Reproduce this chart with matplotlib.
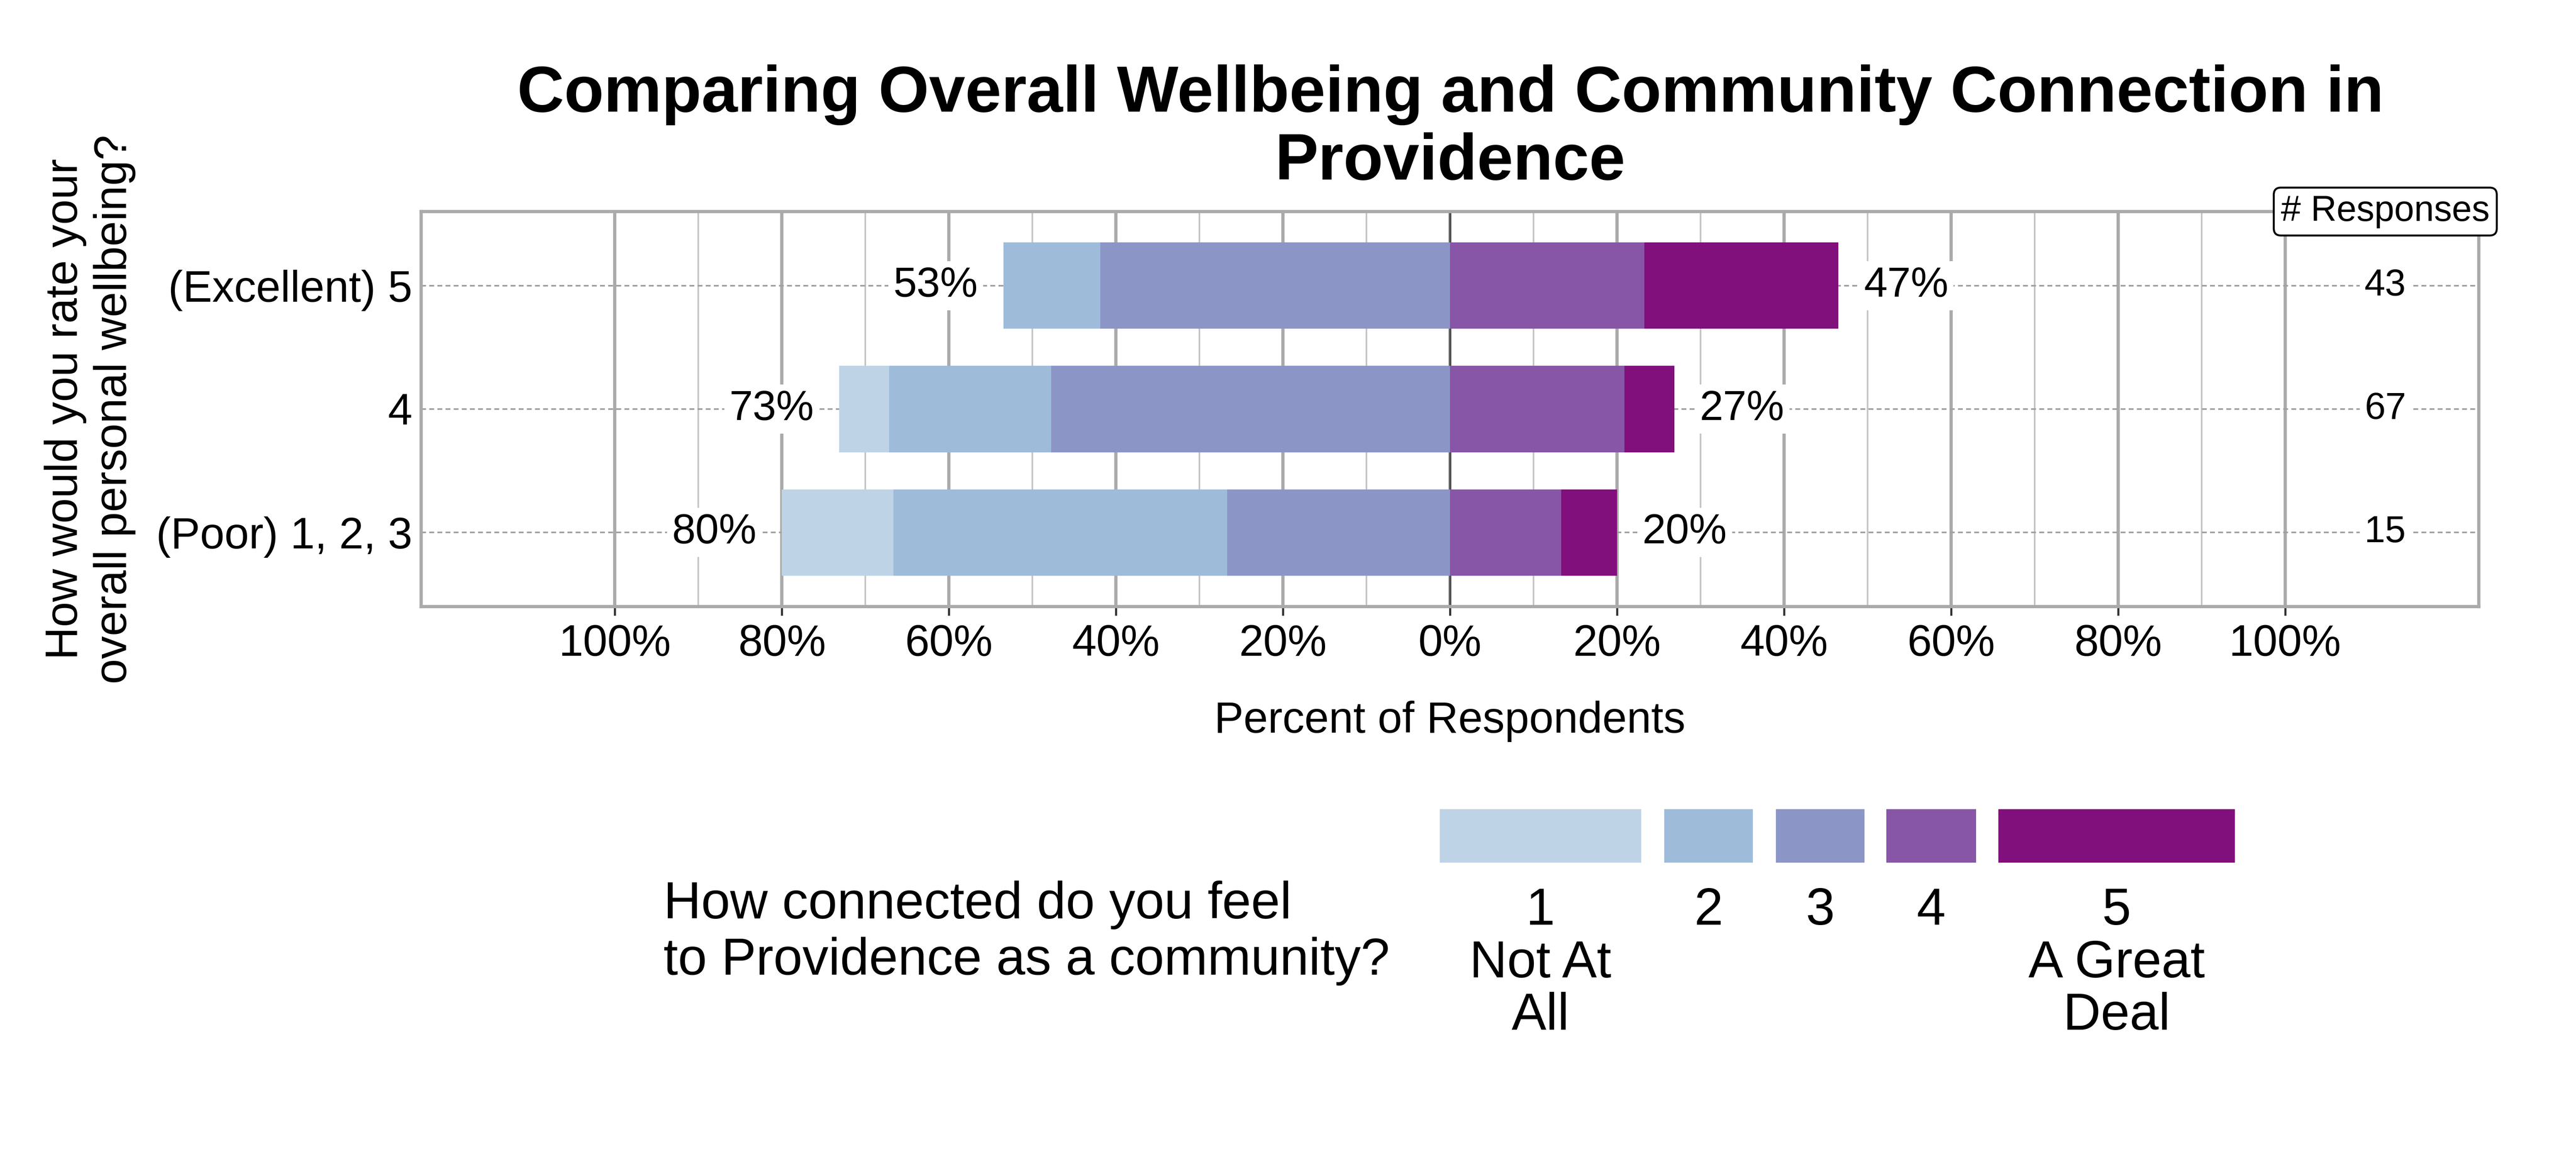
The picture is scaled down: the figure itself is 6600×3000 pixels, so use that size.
import matplotlib
matplotlib.use('Agg')
import matplotlib.pyplot as plt
from matplotlib.patches import Rectangle
import numpy as np

plt.rcParams['font.family'] = ['Liberation Sans', 'DejaVu Sans']

# ---------------- data ----------------
rows = ['(Excellent) 5', '4', '(Poor) 1, 2, 3']
n_responses = [43, 67, 15]
cat_labels = ['1\nNot At\nAll', '2', '3', '4', '5\nA Great\nDeal']
colors = ['#bfd3e6', '#9ebcda', '#8c96c6', '#8856a7', '#810f7c']
# percent of respondents in each connection category (per wellbeing row)
pct_1 = [0.0, 5.97, 13.33]
pct_2 = [11.63, 19.40, 40.00]
pct_3 = [41.86, 47.76, 26.67]
pct_4 = [23.26, 20.90, 13.33]
pct_5 = [23.26, 5.97, 6.67]
major_ticks = [-100, -80, -60, -40, -20, 0, 20, 40, 60, 80, 100]
minor_ticks = [-90, -70, -50, -30, -10, 10, 30, 50, 70, 90]

title = 'Comparing Overall Wellbeing and Community Connection in\nProvidence'
ylabel = 'How would you rate your\noverall personal wellbeing?'
xlabel = 'Percent of Respondents'
legend_title = 'How connected do you feel\nto Providence as a community?'

# ---------------- figure ----------------
W, H = 6600, 3000
fig = plt.figure(figsize=(22, 10), dpi=300)
ax = fig.add_axes([1079 / W, 1 - 1554 / H, (6351 - 1079) / W, (1554 - 542) / H])

y = np.arange(len(rows))[::-1]
p1, p2, p3, p4, p5 = (np.array(p) for p in (pct_1, pct_2, pct_3, pct_4, pct_5))
bh = 0.7
ax.barh(y, -p3, left=0, height=bh, color=colors[2], zorder=3)
ax.barh(y, -p2, left=-p3, height=bh, color=colors[1], zorder=3)
ax.barh(y, -p1, left=-(p3 + p2), height=bh, color=colors[0], zorder=3)
ax.barh(y, p4, left=0, height=bh, color=colors[3], zorder=3)
ax.barh(y, p5, left=p4, height=bh, color=colors[4], zorder=3)

left_tot = p1 + p2 + p3
right_tot = p4 + p5
off = 8.1
for yi, lt, rt, n in zip(y, left_tot, right_tot, n_responses):
    ax.text(-lt - off, yi, f'{int(round(lt))}%', ha='center', va='center',
            fontsize=26, zorder=4,
            bbox=dict(facecolor='white', edgecolor='none', pad=3))
    ax.text(rt + off, yi, f'{int(round(rt))}%', ha='center', va='center',
            fontsize=26, zorder=4,
            bbox=dict(facecolor='white', edgecolor='none', pad=3))
    ax.text(112, yi, str(n), ha='center', va='center', fontsize=23, zorder=4,
            bbox=dict(facecolor='white', edgecolor='none', pad=3))

ax.text(112, 1.0, '# Responses', transform=ax.get_xaxis_transform(),
        ha='center', va='center', fontsize=22, zorder=6, clip_on=False,
        bbox=dict(boxstyle='round,pad=0.2', facecolor='white',
                  edgecolor='black', linewidth=1.2))

ax.set_xlim(-123.2, 123.2)
ax.set_ylim(-0.6, 2.6)
ax.set_yticks(y)
ax.set_yticklabels(rows, fontsize=27)
ax.set_xticks(major_ticks)
ax.set_xticklabels([f'{abs(t)}%' for t in major_ticks], fontsize=27)
ax.set_xticks(minor_ticks, minor=True)
ax.tick_params(axis='x', which='major', length=5.5, width=1.3, color='#333333', pad=5)
ax.tick_params(axis='x', which='minor', length=0)
ax.tick_params(axis='y', length=0, pad=5.5)

ax.grid(axis='x', which='major', color='#aaaaaa', linewidth=2.0, zorder=0)
ax.grid(axis='x', which='minor', color='#c4c4c4', linewidth=1.0, zorder=0)
ax.grid(axis='y', which='major', color='#a0a0a0', linewidth=1.0,
        linestyle=(0, (3, 2)), zorder=0)
ax.axvline(0, color='#4d4d4d', linewidth=1.2, zorder=1)
ax.set_axisbelow(True)
for s in ax.spines.values():
    s.set_color('#aaaaaa')
    s.set_linewidth(2.0)

ax.set_xlabel(xlabel, fontsize=27, labelpad=22)

fig.text(230 / W, 1 - 1048 / H, ylabel, rotation=90, ha='center', va='center',
         multialignment='center', fontsize=28)

fig.text(3716 / W, 1 - 165 / H, title, ha='center', va='top', fontsize=40,
         fontweight='bold', multialignment='center', linespacing=1.15)

# ---------------- legend ----------------
key_x = [(3689, 4205), (4264, 4491), (4550, 4777), (4833, 5063), (5120, 5726)]
key_y0, key_y1 = 2073, 2210
for (x0, x1), c, lab in zip(key_x, colors, cat_labels):
    fig.add_artist(Rectangle((x0 / W, 1 - key_y1 / H), (x1 - x0) / W,
                             (key_y1 - key_y0) / H, transform=fig.transFigure,
                             facecolor=c, edgecolor='none'))
    fig.text((x0 + x1) / 2 / W, 1 - 2272 / H, lab, ha='center', va='top',
             fontsize=32, multialignment='center', linespacing=1.1)
fig.text(1700 / W, 1 - 2256 / H, legend_title, ha='left', va='top', fontsize=32)

fig.savefig('out.png', dpi=300, facecolor='white')
